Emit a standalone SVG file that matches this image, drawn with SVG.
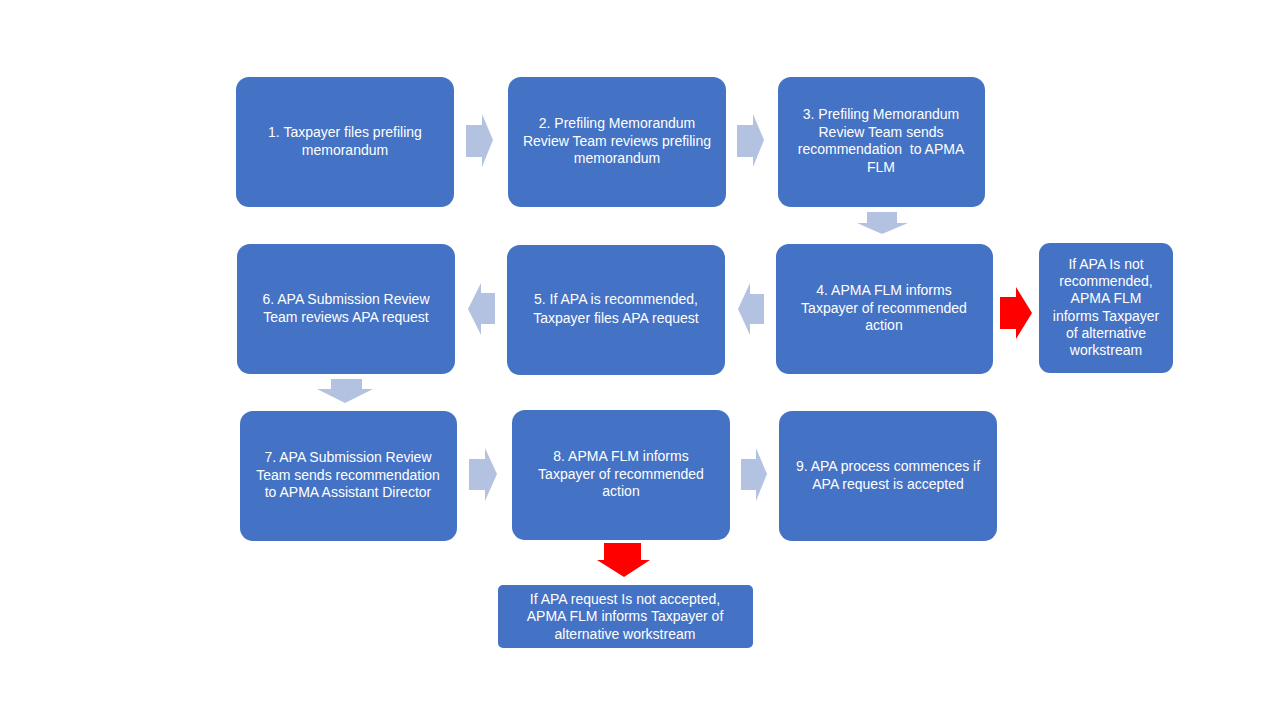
<svg xmlns="http://www.w3.org/2000/svg" width="1280" height="720" viewBox="0 0 1280 720">
<style>
.box{fill:#4472C4}
.t{font-family:"Liberation Sans",Arial,sans-serif;font-size:14px;fill:#FFFFFF;text-anchor:middle}
.la{fill:#B4C2E2}
.ra{fill:#FF0000}
</style>
<rect width="1280" height="720" fill="#FFFFFF"/>
<g id="connectors">
<polygon class="la" points="466,125 482,125 482,114 493,140 482,167 482,157 466,157"/>
<polygon class="la" points="737,125 753,125 753,114 764,140 753,167 753,157 737,157"/>
<polygon class="la" points="867,212 897,212 897,223 908,223 882,234 857,223 867,223"/>
<polygon class="la" points="764,294 750,294 750,283 738,309 750,335 750,324 764,324"/>
<polygon class="la" points="495,293 481,293 481,283 468,309 481,335 481,324 495,324"/>
<polygon class="la" points="331,379 362,379 362,389 373,389 345,403 317,389 331,389"/>
<polygon class="la" points="469,459 485,459 485,448 497,474 485,501 485,490 469,490"/>
<polygon class="la" points="741,459 756,459 756,448 767,474 756,501 756,490 741,490"/>
<polygon class="ra" points="1000,297 1016,297 1016,287 1032,313 1016,339 1016,329 1000,329"/>
<polygon class="ra" points="604,543 641,543 641,560 650,560 624,577 597,560 604,560"/>
</g>
<g id="n1"><rect class="box" x="236" y="77" width="218" height="130" rx="13"/>
<text class="t"><tspan x="345" y="137">1. Taxpayer files prefiling</tspan><tspan x="345" y="155">memorandum</tspan></text></g>
<g id="n2"><rect class="box" x="508" y="77" width="218" height="130" rx="13"/>
<text class="t"><tspan x="617" y="128">2. Prefiling Memorandum</tspan><tspan x="617" y="146">Review Team reviews prefiling</tspan><tspan x="617" y="163">memorandum</tspan></text></g>
<g id="n3"><rect class="box" x="778" y="77" width="207" height="130" rx="13"/>
<text class="t" xml:space="preserve"><tspan x="881" y="119">3. Prefiling Memorandum</tspan><tspan x="881" y="137">Review Team sends</tspan><tspan x="881" y="154">recommendation  to APMA</tspan><tspan x="881" y="172">FLM</tspan></text></g>
<g id="n4"><rect class="box" x="776" y="244" width="217" height="130" rx="13"/>
<text class="t"><tspan x="884" y="295">4. APMA FLM informs</tspan><tspan x="884" y="313">Taxpayer of recommended</tspan><tspan x="884" y="330">action</tspan></text></g>
<g id="n4b"><rect class="box" x="1039" y="243" width="134" height="130" rx="11"/>
<text class="t"><tspan x="1106" y="269">If APA Is not</tspan><tspan x="1106" y="286">recommended,</tspan><tspan x="1106" y="303">APMA FLM</tspan><tspan x="1106" y="321">informs Taxpayer</tspan><tspan x="1106" y="338">of alternative</tspan><tspan x="1106" y="355">workstream</tspan></text></g>
<g id="n5"><rect class="box" x="507" y="245" width="218" height="130" rx="13"/>
<text class="t"><tspan x="616" y="304">5. If APA is recommended,</tspan><tspan x="616" y="323">Taxpayer files APA request</tspan></text></g>
<g id="n6"><rect class="box" x="237" y="244" width="218" height="130" rx="13"/>
<text class="t"><tspan x="346" y="304">6. APA Submission Review</tspan><tspan x="346" y="322">Team reviews APA request</tspan></text></g>
<g id="n7"><rect class="box" x="240" y="411" width="217" height="130" rx="13"/>
<text class="t"><tspan x="348" y="462">7. APA Submission Review</tspan><tspan x="348" y="480">Team sends recommendation</tspan><tspan x="348" y="497">to APMA Assistant Director</tspan></text></g>
<g id="n8"><rect class="box" x="512" y="410" width="218" height="130" rx="13"/>
<text class="t"><tspan x="621" y="461">8. APMA FLM informs</tspan><tspan x="621" y="479">Taxpayer of recommended</tspan><tspan x="621" y="496">action</tspan></text></g>
<g id="n9"><rect class="box" x="779" y="411" width="218" height="130" rx="13"/>
<text class="t"><tspan x="888" y="471">9. APA process commences if</tspan><tspan x="888" y="489">APA request is accepted</tspan></text></g>
<g id="n8b"><rect class="box" x="498" y="585" width="255" height="63" rx="5"/>
<text class="t"><tspan x="625" y="604">If APA request Is not accepted,</tspan><tspan x="625" y="621">APMA FLM informs Taxpayer of</tspan><tspan x="625" y="639">alternative workstream</tspan></text></g>
</svg>
